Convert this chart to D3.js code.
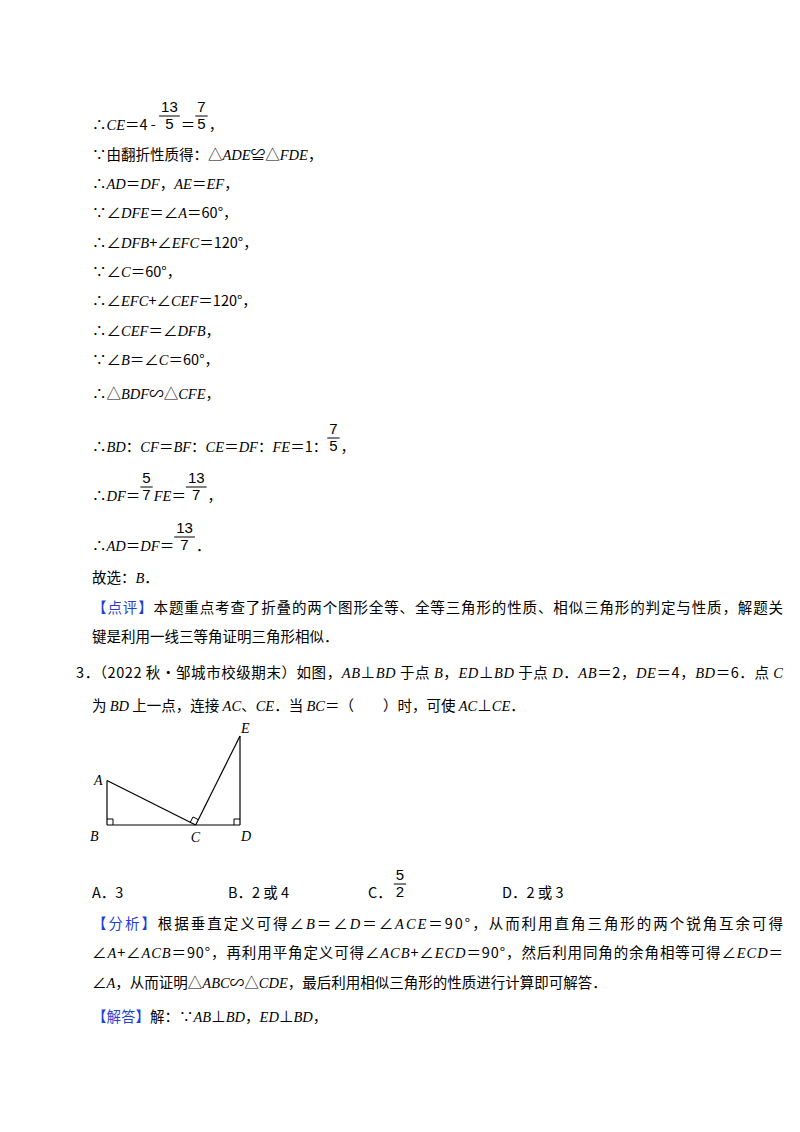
<!DOCTYPE html>
<html><head><meta charset="utf-8">
<script src="https://cdn.jsdelivr.net/npm/d3@7"></script>
<style>body{margin:0;background:#fff}</style>
</head><body><svg></svg>
<script>
// page size
let width = 800
let height = 1132
let left = 92
let right = 783

// lines of the worked solution: *x* = italic math, {a/b} = fraction, [x] = blue label
let lines = [
  {y: 130, t: '∴*CE*＝4 - {13/5}＝{7/5}，'},
  {y: 160, t: '∵由翻折性质得：△*ADE*≌△*FDE*，'},
  {y: 189, t: '∴*AD*＝*DF*，*AE*＝*EF*，'},
  {y: 218, t: '∵∠*DFE*＝∠*A*＝60°，'},
  {y: 248, t: '∴∠*DFB*+∠*EFC*＝120°，'},
  {y: 277, t: '∵∠*C*＝60°，'},
  {y: 306, t: '∴∠*EFC*+∠*CEF*＝120°，'},
  {y: 336, t: '∴∠*CEF*＝∠*DFB*，'},
  {y: 365, t: '∵∠*B*＝∠*C*＝60°，'},
  {y: 399, t: '∴△*BDF*∽△*CFE*，'},
  {y: 452, t: '∴*BD*：*CF*＝*BF*：*CE*＝*DF*：*FE*＝1：{7/5}，'},
  {y: 501, t: '∴*DF*＝{5/7}*FE*＝{13/7}，'},
  {y: 551, t: '∴*AD*＝*DF*＝{13/7}．'},
  {y: 583, t: '故选：*B*．'},
  {y: 613, t: '[【点评】]本题重点考查了折叠的两个图形全等、全等三角形的性质、相似三角形的判定与性质，解题关', full: true},
  {y: 642, t: '键是利用一线三等角证明三角形相似．'},
  {y: 678, x: 76, t: '3．（2022 秋•邹城市校级期末）如图，*AB*⊥*BD* 于点 *B*，*ED*⊥*BD* 于点 *D*．*AB*＝2，*DE*＝4，*BD*＝6．点 *C*', full: true},
  {y: 711, t: '为 *BD* 上一点，连接 *AC*、*CE*．当 *BC*＝（　　）时，可使 *AC*⊥*CE*．'},
  {y: 929, t: '[【分析】]根据垂直定义可得∠*B*＝∠*D*＝∠*ACE*＝90°，从而利用直角三角形的两个锐角互余可得', full: true},
  {y: 958, t: '∠*A*+∠*ACB*＝90°，再利用平角定义可得∠*ACB*+∠*ECD*＝90°，然后利用同角的余角相等可得∠*ECD*＝', full: true},
  {y: 988, t: '∠*A*，从而证明△*ABC*∽△*CDE*，最后利用相似三角形的性质进行计算即可解答．'},
  {y: 1022, t: '[【解答】]解：∵*AB*⊥*BD*，*ED*⊥*BD*，'}
]

// answer options
let optionLabels = ['A．3', 'B．2 或 4', 'C．', 'D．2 或 3']
let optionX = [92, 228, 368, 502]
let optionFrac = [null, null, '5/2', null]

// figure points in problem units
let pointNames = ['A', 'B', 'C', 'D', 'E']
let pointX = [0, 0, 4, 6, 6]
let pointY = [2, 0, 0, 0, 4]

let svg = d3.select('svg').attr('width', width).attr('height', height)

let cjk = "'Noto Sans CJK SC', sans-serif"
let serif = "'Liberation Serif', 'DejaVu Serif', serif"
let fs = 14.5

let parse = (t) => {
  let out = []
  let re = /\*([^*]+)\*|\{(\d+)\/(\d+)\}|\[([^\]]+)\]|([^*{\[]+)/g
  let m
  while ((m = re.exec(t))) {
    if (m[1]) out.push({k: 'i', s: m[1]})
    else if (m[2]) out.push({k: 'f', n: m[2], d: m[3]})
    else if (m[4]) out.push({k: 'b', s: m[4]})
    else out.push({k: 't', s: m[5]})
  }
  return out
}

let styleSeg = (sel, seg) => {
  let isMath = /^[\w\s.+\-°]+$/.test(seg.s)
  sel.attr('font-family', seg.k == 'i' ? serif : (isMath ? serif : cjk))
     .attr('font-style', seg.k == 'i' ? 'italic' : 'normal')
     .attr('fill', seg.k == 'b' ? '#1f3fd6' : '#000')
}

let drawFrac = (x, y, n, d) => {
  let g = svg.append('g').attr('font-family', "'Liberation Sans', Arial, sans-serif").attr('font-size', 15)
  let a = g.append('text').attr('x', x).attr('y', y - 18).text(n)
  let b = g.append('text').attr('x', x).attr('y', y - 1).text(d)
  let w = Math.max(a.node().getComputedTextLength(), b.node().getComputedTextLength()) + 4
  a.attr('x', x + (w - a.node().getComputedTextLength()) / 2)
  b.attr('x', x + (w - b.node().getComputedTextLength()) / 2)
  g.append('line').attr('x1', x).attr('x2', x + w).attr('y1', y - 14).attr('y2', y - 14)
   .attr('stroke', '#000').attr('stroke-width', 1)
  return w + 1
}

let drawLine = (line) => {
  let segs = parse(line.t)
  let x0 = line.x || left
  if (line.full) {
    let txt = svg.append('text').attr('x', x0).attr('y', line.y).attr('font-size', fs)
    segs.forEach(s => styleSeg(txt.append('tspan').text(s.s), s))
    txt.attr('textLength', right - x0).attr('lengthAdjust', 'spacing')
    return
  }
  let x = x0
  segs.forEach(s => {
    if (s.k == 'f') { x += drawFrac(x, line.y, s.n, s.d); return }
    let t = svg.append('text').attr('x', x).attr('y', line.y).attr('font-size', fs)
      .attr('xml:space', 'preserve').style('white-space', 'pre')
    styleSeg(t, s)
    t.text(s.s)
    x += t.node().getComputedTextLength()
  })
}

lines.forEach(drawLine)

optionLabels.forEach((lab, i) => {
  let t = svg.append('text').attr('x', optionX[i]).attr('y', 898).attr('font-size', fs)
    .attr('font-family', cjk).text(lab)
  if (optionFrac[i]) {
    let p = optionFrac[i].split('/')
    drawFrac(optionX[i] + t.node().getComputedTextLength() + 2, 898, p[0], p[1])
  }
})

// figure
let xScale = d3.scaleLinear().domain([0, 6]).range([107, 240])
let yScale = d3.scaleLinear().domain([0, 4]).range([825, 736])
let pts = pointNames.map((n, i) => ({n: n, x: xScale(pointX[i]), y: yScale(pointY[i])}))
let P = {}
pts.forEach(p => P[p.n] = p)
let segsFig = [['A', 'B'], ['B', 'D'], ['D', 'E'], ['A', 'C'], ['C', 'E']]
svg.selectAll('line.fig').data(segsFig).enter().append('line').attr('class', 'fig')
   .attr('x1', d => P[d[0]].x).attr('y1', d => P[d[0]].y)
   .attr('x2', d => P[d[1]].x).attr('y2', d => P[d[1]].y)
   .attr('stroke', '#000').attr('stroke-width', 1.2)

// right-angle marks
let s = 6
svg.append('path').attr('d', `M${P.B.x},${P.B.y - s}h${s}v${s}`).attr('fill', 'none').attr('stroke', '#000')
svg.append('path').attr('d', `M${P.D.x},${P.D.y - s}h${-s}v${s}`).attr('fill', 'none').attr('stroke', '#000')
let u1 = [P.A.x - P.C.x, P.A.y - P.C.y], u2 = [P.E.x - P.C.x, P.E.y - P.C.y]
let n1 = Math.hypot(...u1), n2 = Math.hypot(...u2)
let a = [u1[0] / n1 * s, u1[1] / n1 * s], b = [u2[0] / n2 * s, u2[1] / n2 * s]
svg.append('path').attr('d', `M${P.C.x + a[0]},${P.C.y + a[1]}l${b[0]},${b[1]}l${-a[0]},${-a[1]}`)
   .attr('fill', 'none').attr('stroke', '#000')

let labOff = {A: [-13, 4], B: [-17, 16], C: [-5, 17], D: [1, 16], E: [1, -3]}
svg.selectAll('text.pt').data(pts).enter().append('text').attr('class', 'pt')
   .attr('x', d => d.x + labOff[d.n][0]).attr('y', d => d.y + labOff[d.n][1])
   .attr('font-family', serif).attr('font-style', 'italic').attr('font-size', 14)
   .text(d => d.n)
</script></body></html>
